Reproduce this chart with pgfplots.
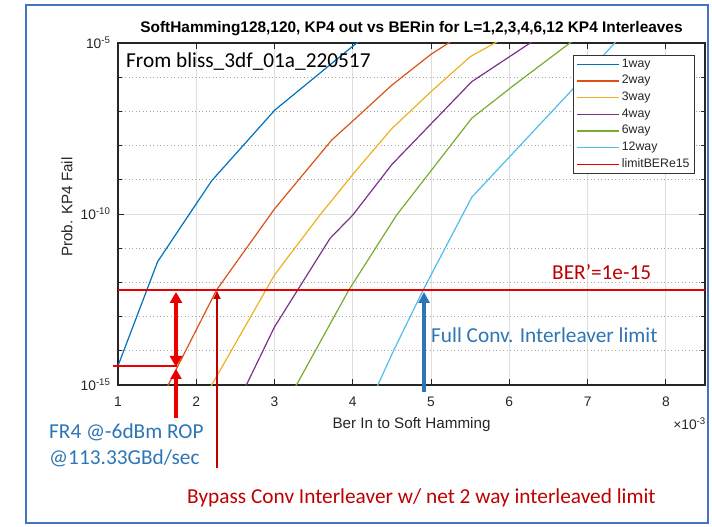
\documentclass[border=0pt]{standalone}
\usepackage{fontspec}
\setmainfont{Liberation Sans}
\newfontfamily\carlito{Carlito}
\usepackage{pgfplots}
\pgfplotsset{compat=1.18}
\usetikzlibrary{arrows.meta}
\definecolor{cA}{RGB}{0,114,189}
\definecolor{cB}{RGB}{217,83,25}
\definecolor{cC}{RGB}{237,177,32}
\definecolor{cD}{RGB}{126,47,142}
\definecolor{cE}{RGB}{119,172,48}
\definecolor{cF}{RGB}{77,190,238}
\definecolor{limred}{RGB}{230,0,0}
\definecolor{dred}{RGB}{192,0,0}
\definecolor{brred}{RGB}{235,0,0}
\definecolor{pblue}{RGB}{46,117,182}
\definecolor{frame}{RGB}{68,114,196}
\begin{document}
\begin{tikzpicture}
\path[use as bounding box] (0,0) rectangle (712pt,527pt);
\begin{axis}[
  at={(118pt,142pt)}, anchor=south west, scale only axis,
  width=587pt, height=342pt,
  xmin=1, xmax=8.5, ymode=log, ymin=1e-15, ymax=1e-5,
  xtick={1,2,3,4,5,6,7,8}, xticklabels={1,2,3,4,5,6,7,8},
  ytick={1e-15,1e-10,1e-5},
  yticklabels={10\textsuperscript{-15},10\textsuperscript{-10},10\textsuperscript{-5}},
  minor ytick={1e-14,1e-13,1e-12,1e-11,1e-9,1e-8,1e-7,1e-6},
  tick align=inside, tick pos=both,
  major tick length=6pt, minor tick length=4pt,
  tick style={black!85, line width=0.9pt},
  axis line style={black!85, line width=1.2pt},
  xmajorgrids, ymajorgrids, yminorgrids,
  major grid style={solid, color=black!13, line width=0.8pt},
  minor grid style={color=black!35, line width=0.8pt, dash pattern=on 1pt off 2.5pt},
  ticklabel style={font=\fontsize{13.8}{16}\selectfont, color=black!85},
  xticklabel style={yshift=-8pt},
  yticklabel style={xshift=-4pt},
  title={SoftHamming128,120, KP4 out vs BERin for L=1,2,3,4,6,12 KP4 Interleaves},
  title style={at={(axis description cs:0.5,1.0132)}, anchor=base, font=\fontsize{15.4}{18}\selectfont\bfseries, inner sep=0pt},
  xlabel={Ber In to Soft Hamming},
  xlabel style={at={(axis description cs:0.5,-0.127)}, anchor=base, font=\fontsize{15.2}{18}\selectfont, inner sep=0pt, color=black!85},
  ylabel={Prob. KP4 Fail},
  ylabel style={at={(axis description cs:-0.087,0.52)}, anchor=center, rotate=0, font=\fontsize{15.2}{18}\selectfont, inner sep=0pt, color=black!85},
  legend style={at={(rel axis cs:0.983,0.965)}, anchor=north east, draw=black!80, line width=0.9pt,
    font=\fontsize{12.3}{14}\selectfont, inner xsep=3pt, inner ysep=0.5pt,
    nodes={inner sep=2pt, text height=9.2pt, text depth=3.5pt},
    cells={anchor=west}, text=black!85},
  legend image code/.code={\draw[#1, line width=1.2pt] (0pt,0pt) -- (42pt,0pt);},
  every axis plot/.append style={line width=1.2pt},
]
\addplot[cA] coordinates {(1.0,3.63e-15) (1.507,4.07e-12) (2.196,9.33e-10) (3.005,1.10e-7) (4.05,1e-5) (4.5,6.9e-5)};
\addlegendentry{1way}
\addplot[cB] coordinates {(1.5,2.29e-16) (1.642,1e-15) (2.26,6.03e-13) (3.0,1.41e-10) (3.73,1.45e-8) (4.0,5.25e-8) (4.5,5.89e-7) (5.0,4.68e-6) (5.4,1.82e-5)};
\addlegendentry{2way}
\addplot[cC] coordinates {(2.0,1.58e-16) (2.197,1e-15) (3.0,1.66e-12) (3.58,9.33e-11) (4.03,1.74e-9) (4.5,3.16e-8) (5.0,3.80e-7) (5.5,3.98e-6) (5.8,9.55e-6) (6.0,1.74e-5)};
\addlegendentry{3way}
\addplot[cD] coordinates {(2.5,2.24e-16) (2.64,1e-15) (3.0,5.01e-14) (3.71,1.95e-11) (4.0,9.33e-11) (4.5,2.82e-9) (5.52,7.41e-7) (6.24,9.12e-6) (6.5,2.24e-5)};
\addlegendentry{4way}
\addplot[cE] coordinates {(3.1,1.78e-16) (3.28,1e-15) (3.95,6.03e-13) (4.56,9.33e-11) (5.52,6.31e-8) (6.05,5.62e-7) (6.75,9.12e-6) (7.0,2.5e-5)};
\addlegendentry{6way}
\addplot[cF] coordinates {(4.2,2.51e-16) (4.32,1e-15) (4.52,1e-14) (4.9,6.03e-13) (5.52,3.09e-10) (6.79,3.98e-7) (7.33,9.12e-6) (7.6,4.5e-5)};
\addlegendentry{12way}
\addplot[limred] coordinates {(1,6.03e-13) (8.5,6.03e-13)};
\addlegendentry{limitBERe15}
\end{axis}
\begin{scope}[x=1pt, y=-1pt, shift={(0pt,527pt)}]
  \draw[frame, line width=2.5pt] (26,5) rectangle (708,523);
  \draw[brred, line width=2pt] (113,366) -- (177,366);
  \draw[brred, line width=4pt, {Triangle[width=12pt,length=11pt]}-{Triangle[width=12pt,length=11pt]}] (176,292) -- (176,367);
  \draw[brred, line width=4pt, -{Triangle[width=11pt,length=10pt]}] (176,418) -- (176,369);
  \draw[dred, line width=1.8pt, -{Triangle[width=7pt,length=8pt]}] (217,468) -- (217,291);
  \draw[pblue, line width=3.5pt, -{Triangle[width=11pt,length=11pt]}] (424,392) -- (424,292);
  \node[anchor=base west, inner sep=0pt, font=\carlito\fontsize{21.3}{25}\selectfont] at (126,68) {From bliss\_3df\_01a\_220517};
  \node[anchor=base west, inner sep=0pt, text=dred, font=\carlito\fontsize{21.3}{25}\selectfont] at (552,280) {BER’=1e-15};
  \node[anchor=base west, inner sep=0pt, text=pblue, font=\carlito\fontsize{21.3}{25}\selectfont] at (431,343) {Full Conv. Interleaver limit};
  \node[anchor=base west, inner sep=0pt, text=pblue, font=\carlito\fontsize{21.3}{25}\selectfont] at (49,439) {FR4 @-6dBm ROP};
  \node[anchor=base west, inner sep=0pt, text=pblue, font=\carlito\fontsize{21.3}{25}\selectfont] at (49,465) {@113.33GBd/sec};
  \node[anchor=base west, inner sep=0pt, text=dred, font=\carlito\fontsize{21.3}{25}\selectfont] at (187,504) {Bypass Conv Interleaver w/ net 2 way interleaved limit};
  \node[anchor=base east, inner sep=0pt, text=black!85, font=\fontsize{13.8}{16}\selectfont] at (706,430) {×10\textsuperscript{-3}};
\end{scope}
\end{tikzpicture}
\end{document}
